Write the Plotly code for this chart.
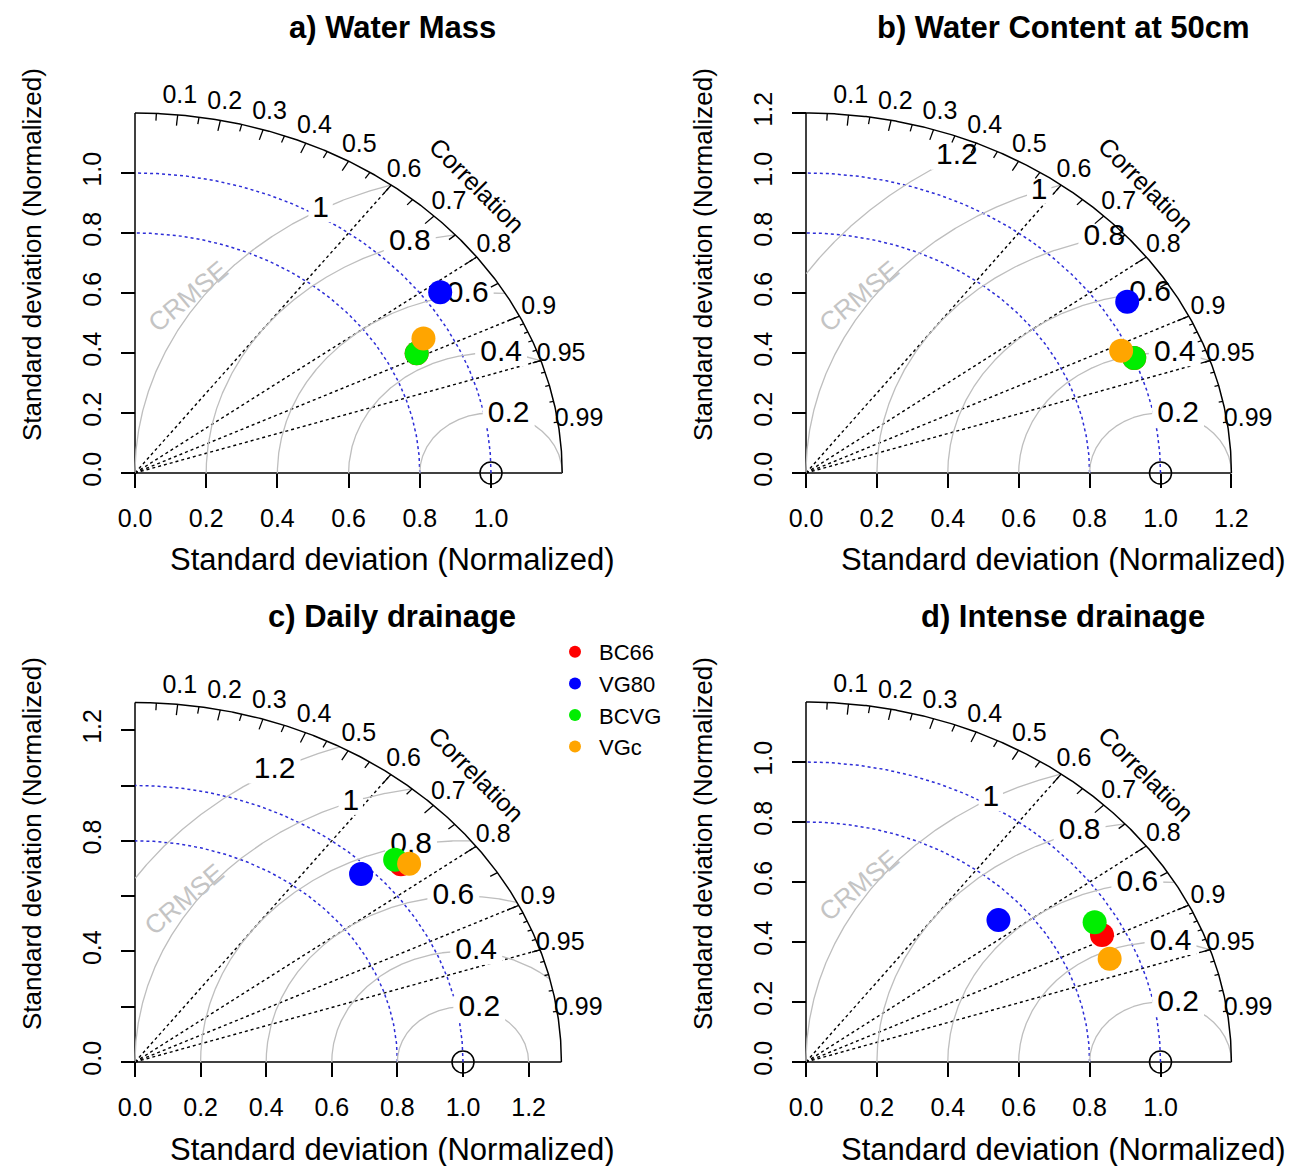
import numpy as np
import plotly.graph_objects as go

FIG_W, FIG_H = 1290, 1166
FONT = "Liberation Sans, Arial, Helvetica, sans-serif"

# ---------------- data ----------------
models = ["BC66", "VG80", "BCVG", "VGc"]
model_colors = ["#FF0000", "#0000FF", "#00EE00", "#FFA500"]

panel_titles = ["a) Water Mass", "b) Water Content at 50cm",
                "c) Daily drainage", "d) Intense drainage"]

# normalized standard deviation and correlation (order: BC66, VG80, BCVG, VGc)
sd_a = [0.886, 1.048, 0.886, 0.926]
cor_a = [0.893, 0.818, 0.893, 0.875]
sd_b = [1.002, 1.071, 1.002, 0.978]
cor_b = [0.924, 0.846, 0.924, 0.909]
sd_c = [1.081, 0.968, 1.079, 1.101]
cor_c = [0.750, 0.712, 0.735, 0.759]
sd_d = [0.936, 0.720, 0.938, 0.923]
cor_d = [0.892, 0.754, 0.868, 0.928]

max_sd = [1.2, 1.2, 1.3, 1.2]
ref_sd = 1.0

xticks_a = [0.0, 0.2, 0.4, 0.6, 0.8, 1.0]
xticks_b = [0.0, 0.2, 0.4, 0.6, 0.8, 1.0, 1.2]
xticks_c = [0.0, 0.2, 0.4, 0.6, 0.8, 1.0, 1.2]
xticks_d = [0.0, 0.2, 0.4, 0.6, 0.8, 1.0]
yticklabels_c = ["0.0", "", "0.4", "", "0.8", "", "1.2"]

gamma_a = [0.2, 0.4, 0.6, 0.8, 1.0]
gamma_b = [0.2, 0.4, 0.6, 0.8, 1.0, 1.2]
gamma_c = [0.2, 0.4, 0.6, 0.8, 1.0, 1.2]
gamma_d = [0.2, 0.4, 0.6, 0.8, 1.0]

sd_arcs = [0.8, 1.0]
corr_lines = [0.6, 0.8, 0.9, 0.95]
corr_labels = [0.1, 0.2, 0.3, 0.4, 0.5, 0.6, 0.7, 0.8, 0.9, 0.95, 0.99]
corr_big = [0.1, 0.2, 0.3, 0.4, 0.5, 0.6, 0.7, 0.8, 0.9]
corr_med = [0.05, 0.15, 0.25, 0.35, 0.45, 0.55, 0.65, 0.75, 0.85, 0.95]
corr_small = [0.91, 0.92, 0.93, 0.94, 0.95, 0.96, 0.97, 0.98, 0.99]
crmse_pos = (0.15, 0.59)

# ---------------- layout in pixels ----------------
frames = [
    dict(ox=135, oy=473, sx=356.0, sy=300.0),
    dict(ox=806, oy=473, sx=354.5, sy=300.0),
    dict(ox=135, oy=1062, sx=328.0, sy=276.5),
    dict(ox=806, oy=1062, sx=354.5, sy=300.0),
]

panels = [
    dict(sd=sd_a, cor=cor_a, xt=xticks_a, yt=xticks_a, ytt=None, gam=gamma_a),
    dict(sd=sd_b, cor=cor_b, xt=xticks_b, yt=xticks_b, ytt=None, gam=gamma_b),
    dict(sd=sd_c, cor=cor_c, xt=xticks_c, yt=xticks_c, ytt=yticklabels_c, gam=gamma_c),
    dict(sd=sd_d, cor=cor_d, xt=xticks_d, yt=xticks_d, ytt=None, gam=gamma_d),
]

fig = go.Figure()
annotations = []
layout_axes = {}
MARGIN = 5


def px2paper(px, py):
    return px / FIG_W, 1 - py / FIG_H


for i, (p, fr, maxsd, title) in enumerate(zip(panels, frames, max_sd, panel_titles)):
    xa = "x" if i == 0 else f"x{i + 1}"
    ya = "y" if i == 0 else f"y{i + 1}"
    common = dict(xaxis=xa, yaxis=ya, showlegend=False, hoverinfo="skip")
    ox, oy, sx, sy = fr["ox"], fr["oy"], fr["sx"], fr["sy"]
    extx = 1.08 * maxsd * sx
    exty = 1.08 * maxsd * sy

    # correlation dotted lines
    xs, ys = [], []
    for c in corr_lines:
        xs += [0, maxsd * c, None]
        ys += [0, maxsd * np.sqrt(1 - c * c), None]
    fig.add_trace(go.Scatter(x=xs, y=ys, mode="lines",
                             line=dict(color="black", width=1.4, dash="dot"), **common))
    # axis lines
    fig.add_trace(go.Scatter(x=[0, maxsd, None, 0, 0], y=[0, 0, None, 0, maxsd], mode="lines",
                             line=dict(color="black", width=1.5), **common))
    # sd arcs (blue dotted)
    xs, ys = [], []
    t = np.linspace(0, np.pi / 2, 200)
    for s in sd_arcs:
        xs += list(s * np.cos(t)) + [None]
        ys += list(s * np.sin(t)) + [None]
    fig.add_trace(go.Scatter(x=xs, y=ys, mode="lines",
                             line=dict(color="rgb(45,45,215)", width=1.5, dash="dot"), **common))
    # CRMSE arcs (gray) and labels
    gam = p["gam"]
    t = np.linspace(0, np.pi, 1441)
    xs, ys = [], []
    for g in gam:
        xc = ref_sd + g * np.cos(t)
        yc = g * np.sin(t)
        m = (xc >= 0) & (xc ** 2 + yc ** 2 <= maxsd ** 2 * (1 + 1e-9))
        xs += list(xc[m]) + [None]
        ys += list(yc[m]) + [None]
    fig.add_trace(go.Scatter(x=xs, y=ys, mode="lines",
                             line=dict(color="#BEBEBE", width=1.3), **common))
    idx = np.floor(np.linspace(45, 70, len(gam))).astype(int)
    lab_t = (idx - 1) * 0.03
    gfs = 30
    lx, ly, lt = [], [], []
    for g, tt in zip(gam, lab_t):
        x0 = ref_sd + g * np.cos(tt)
        y0 = g * np.sin(tt)
        if x0 <= 0:
            continue
        s = f"{g:g}"
        wpx = gfs * (0.556 * sum(ch.isdigit() for ch in s) + 0.278 * s.count(".")) * 1.1 + 6
        hpx = gfs * 0.85
        hw, hh = wpx / 2 / sx, hpx / 2 / sy
        fig.add_trace(go.Scatter(x=[x0 - hw, x0 + hw, x0 + hw, x0 - hw, x0 - hw],
                                 y=[y0 - hh, y0 - hh, y0 + hh, y0 + hh, y0 - hh],
                                 mode="lines", fill="toself", fillcolor="white",
                                 line=dict(width=0, color="white"), **common))
        lx.append(x0); ly.append(y0); lt.append(s)
    fig.add_trace(go.Scatter(x=lx, y=ly, text=lt, mode="text",
                             textfont=dict(size=gfs, color="black", family=FONT), **common))
    # outer arc
    t = np.linspace(0, np.pi / 2, 400)
    fig.add_trace(go.Scatter(x=maxsd * np.cos(t), y=maxsd * np.sin(t), mode="lines",
                             line=dict(color="black", width=1.5), **common))
    # correlation ticks
    xs, ys = [], []
    for vals, f in ((corr_big, 0.97), (corr_med, 0.98), (corr_small, 0.99)):
        for c in vals:
            sn = np.sqrt(1 - c * c)
            xs += [maxsd * c, f * maxsd * c, None]
            ys += [maxsd * sn, f * maxsd * sn, None]
    fig.add_trace(go.Scatter(x=xs, y=ys, mode="lines",
                             line=dict(color="black", width=1.3), **common))
    # correlation labels
    cl = np.array(corr_labels)
    fig.add_trace(go.Scatter(x=1.05 * maxsd * cl, y=1.05 * maxsd * np.sqrt(1 - cl ** 2),
                             text=[f"{c:g}" for c in corr_labels], mode="text", cliponaxis=False,
                             textfont=dict(size=25, color="black", family=FONT), **common))
    # reference point
    fig.add_trace(go.Scatter(x=[ref_sd], y=[0], mode="markers", cliponaxis=False,
                             marker=dict(symbol="circle-open", size=22, color="black",
                                         line=dict(width=1.5, color="black")), **common))
    # model points
    for k in range(len(models)):
        s, r = p["sd"][k], p["cor"][k]
        fig.add_trace(go.Scatter(x=[s * r], y=[s * np.sqrt(1 - r * r)], mode="markers",
                                 cliponaxis=False, name=models[k],
                                 marker=dict(size=24, color=model_colors[k]), **common))

    # axes
    xdom = [(ox - MARGIN) / FIG_W, (ox + extx) / FIG_W]
    ydom = [1 - (oy + MARGIN) / FIG_H, 1 - (oy - exty) / FIG_H]
    xt = p["xt"]
    yt = p["yt"]
    ytt = p["ytt"] if p["ytt"] is not None else [f"{v:.1f}" for v in yt]
    axcommon = dict(showgrid=False, zeroline=False, showline=False, ticks="outside",
                    ticklen=14, tickwidth=1.5, tickcolor="black", automargin=False,
                    tickfont=dict(size=25, color="black", family=FONT))
    layout_axes["xaxis" if i == 0 else f"xaxis{i + 1}"] = dict(
        domain=xdom, range=[-MARGIN / sx, extx / sx], anchor="free",
        position=1 - oy / FIG_H, tickvals=xt, ticktext=[f"{v:.1f}" for v in xt],
        ticklabelstandoff=9, **axcommon)
    layout_axes["yaxis" if i == 0 else f"yaxis{i + 1}"] = dict(
        domain=ydom, range=[-MARGIN / sy, exty / sy], anchor="free",
        position=ox / FIG_W, tickvals=yt, ticktext=ytt, tickangle=-90,
        ticklabelstandoff=10, **axcommon)

    # annotations
    ax_, ay_ = px2paper(ox + 257, oy - 446)
    annotations.append(dict(x=ax_, y=ay_, xref="paper", yref="paper", showarrow=False,
                            text=f"<b>{title}</b>", xanchor="center", yanchor="middle",
                            font=dict(size=31, color="black", family=FONT)))
    ax_, ay_ = px2paper(ox + 257, oy + 87)
    annotations.append(dict(x=ax_, y=ay_, xref="paper", yref="paper", showarrow=False,
                            text="Standard deviation (Normalized)", xanchor="center",
                            yanchor="middle", font=dict(size=31, color="black", family=FONT)))
    ax_, ay_ = px2paper(ox - 103, oy - 218)
    annotations.append(dict(x=ax_, y=ay_, xref="paper", yref="paper", showarrow=False,
                            text="Standard deviation (Normalized)", textangle=-90,
                            xanchor="center", yanchor="middle",
                            font=dict(size=26, color="black", family=FONT)))
    annotations.append(dict(x=crmse_pos[0], y=crmse_pos[1], xref=xa, yref=ya, showarrow=False,
                            text="CRMSE", textangle=-40, xanchor="center", yanchor="middle",
                            font=dict(size=26, color="#C4C4C4", family=FONT)))
    annotations.append(dict(x=0.8 * maxsd, y=0.8 * maxsd, xref=xa, yref=ya, showarrow=False,
                            text="Correlation", textangle=45, xanchor="center",
                            yanchor="middle", font=dict(size=25, color="black", family=FONT)))

# legend entries (drawn in panel c area)
for k in range(len(models)):
    fig.add_trace(go.Scatter(x=[None], y=[None], mode="markers", name=models[k],
                             xaxis="x3", yaxis="y3", showlegend=True,
                             marker=dict(size=12, color=model_colors[k])))

fig.update_layout(
    width=FIG_W, height=FIG_H,
    margin=dict(l=0, r=0, t=0, b=0),
    paper_bgcolor="white", plot_bgcolor="rgba(0,0,0,0)",
    font=dict(family=FONT, color="black"),
    annotations=annotations,
    legend=dict(x=551 / FIG_W, y=1 - 631 / FIG_H, xanchor="left", yanchor="top",
                font=dict(size=22, color="black", family=FONT),
                bgcolor="rgba(0,0,0,0)", itemwidth=38, tracegroupgap=0),
    **layout_axes,
)

fig.write_html("out.html", config={"displayModeBar": False},
               post_script="document.body.style.margin='0px';"
                           "document.body.style.padding='0px';"
                           "document.body.style.overflow='hidden';")
